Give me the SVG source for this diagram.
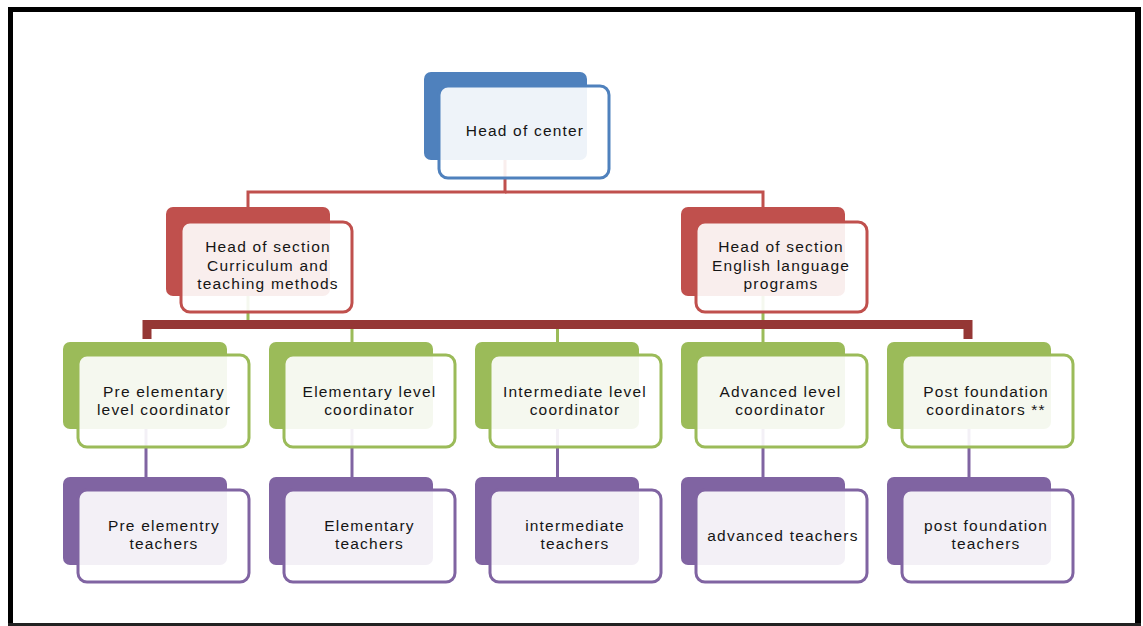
<svg xmlns="http://www.w3.org/2000/svg" width="1143" height="626" viewBox="0 0 1143 626">
<style>
.t{font-family:"Liberation Sans",Arial,sans-serif;font-size:15.5px;letter-spacing:1.2px;fill:#151515;text-anchor:middle}
.front{fill:#ffffff;fill-opacity:0.9;stroke-width:3}
.bb{fill:#4F81BD}.fb{stroke:#4F81BD}
.br{fill:#C0504D}.fr{stroke:#C0504D}
.bg{fill:#9BBB59}.fg{stroke:#9BBB59}
.bp{fill:#8064A2}.fp{stroke:#8064A2}
</style>
<rect width="1143" height="626" fill="#ffffff"/>
<g id="frame" stroke="#000" fill="none">
<line x1="10.5" y1="7" x2="10.5" y2="626" stroke-width="5"/>
<line x1="8" y1="9.5" x2="1141" y2="9.5" stroke-width="5"/>
<line x1="1138" y1="7" x2="1138" y2="626" stroke-width="6"/>
<line x1="8" y1="624.5" x2="1141" y2="624.5" stroke-width="3" stroke="#222"/>
</g>
<g id="connectors" fill="none">
<polyline points="505,160 505,192 248,192 248,207" stroke="#C0504D" stroke-width="3"/>
<polyline points="505,192 763,192 763,207" stroke="#C0504D" stroke-width="3"/>
<g stroke="#9BBB59" stroke-width="3">
<line x1="248" y1="296" x2="248" y2="325"/>
<line x1="763" y1="296" x2="763" y2="342"/>
<line x1="352" y1="325" x2="352" y2="342"/>
<line x1="557.5" y1="325" x2="557.5" y2="342"/>
</g>
<polyline points="147,339 147,324.5 968,324.5 968,339" stroke="#953735" stroke-width="9"/>
<g stroke="#8064A2" stroke-width="3">
<line x1="146" y1="429" x2="146" y2="477"/>
<line x1="352" y1="429" x2="352" y2="477"/>
<line x1="557.5" y1="429" x2="557.5" y2="477"/>
<line x1="763" y1="429" x2="763" y2="477"/>
<line x1="969" y1="429" x2="969" y2="477"/>
</g>
</g>
<g id="head-center">
<rect class="bb" x="424" y="72" width="163" height="88" rx="7"/>
<rect class="front fb" x="439" y="86" width="170" height="92" rx="9"/>
<text class="t" x="525" y="136">Head of center</text>
</g>
<g id="head-curriculum">
<rect class="br" x="166" y="207" width="164" height="89" rx="7"/>
<rect class="front fr" x="181" y="222" width="171" height="90" rx="9"/>
<text class="t" x="268" y="252">Head of section</text>
<text class="t" x="268" y="271">Curriculum and</text>
<text class="t" x="268" y="289">teaching methods</text>
</g>
<g id="head-english">
<rect class="br" x="681" y="207" width="164" height="89" rx="7"/>
<rect class="front fr" x="696" y="222" width="171" height="90" rx="9"/>
<text class="t" x="781" y="252">Head of section</text>
<text class="t" x="781" y="271">English language</text>
<text class="t" x="781" y="289">programs</text>
</g>
<g id="coord-pre">
<rect class="bg" x="63" y="342" width="164" height="87" rx="7"/>
<rect class="front fg" x="78" y="355" width="171" height="92" rx="9"/>
<text class="t" x="164" y="397">Pre elementary</text>
<text class="t" x="164" y="415">level coordinator</text>
</g>
<g id="coord-elem">
<rect class="bg" x="269" y="342" width="164" height="87" rx="7"/>
<rect class="front fg" x="284" y="355" width="171" height="92" rx="9"/>
<text class="t" x="369.5" y="397">Elementary level</text>
<text class="t" x="369.5" y="415">coordinator</text>
</g>
<g id="coord-inter">
<rect class="bg" x="475" y="342" width="164" height="87" rx="7"/>
<rect class="front fg" x="490" y="355" width="171" height="92" rx="9"/>
<text class="t" x="575" y="397">Intermediate level</text>
<text class="t" x="575" y="415">coordinator</text>
</g>
<g id="coord-adv">
<rect class="bg" x="681" y="342" width="164" height="87" rx="7"/>
<rect class="front fg" x="696" y="355" width="171" height="92" rx="9"/>
<text class="t" x="780.5" y="397">Advanced level</text>
<text class="t" x="780.5" y="415">coordinator</text>
</g>
<g id="coord-post">
<rect class="bg" x="887" y="342" width="164" height="87" rx="7"/>
<rect class="front fg" x="902" y="355" width="171" height="92" rx="9"/>
<text class="t" x="986" y="397">Post foundation</text>
<text class="t" x="986" y="415">coordinators **</text>
</g>
<g id="teach-pre">
<rect class="bp" x="63" y="477" width="164" height="88" rx="7"/>
<rect class="front fp" x="78" y="490" width="171" height="92" rx="9"/>
<text class="t" x="164" y="531">Pre elementry</text>
<text class="t" x="164" y="549">teachers</text>
</g>
<g id="teach-elem">
<rect class="bp" x="269" y="477" width="164" height="88" rx="7"/>
<rect class="front fp" x="284" y="490" width="171" height="92" rx="9"/>
<text class="t" x="369.5" y="531">Elementary</text>
<text class="t" x="369.5" y="549">teachers</text>
</g>
<g id="teach-inter">
<rect class="bp" x="475" y="477" width="164" height="88" rx="7"/>
<rect class="front fp" x="490" y="490" width="171" height="92" rx="9"/>
<text class="t" x="575" y="531">intermediate</text>
<text class="t" x="575" y="549">teachers</text>
</g>
<g id="teach-adv">
<rect class="bp" x="681" y="477" width="164" height="88" rx="7"/>
<rect class="front fp" x="696" y="490" width="171" height="92" rx="9"/>
<text class="t" x="783" y="541">advanced teachers</text>
</g>
<g id="teach-post">
<rect class="bp" x="887" y="477" width="164" height="88" rx="7"/>
<rect class="front fp" x="902" y="490" width="171" height="92" rx="9"/>
<text class="t" x="986" y="531">post foundation</text>
<text class="t" x="986" y="549">teachers</text>
</g>
</svg>
